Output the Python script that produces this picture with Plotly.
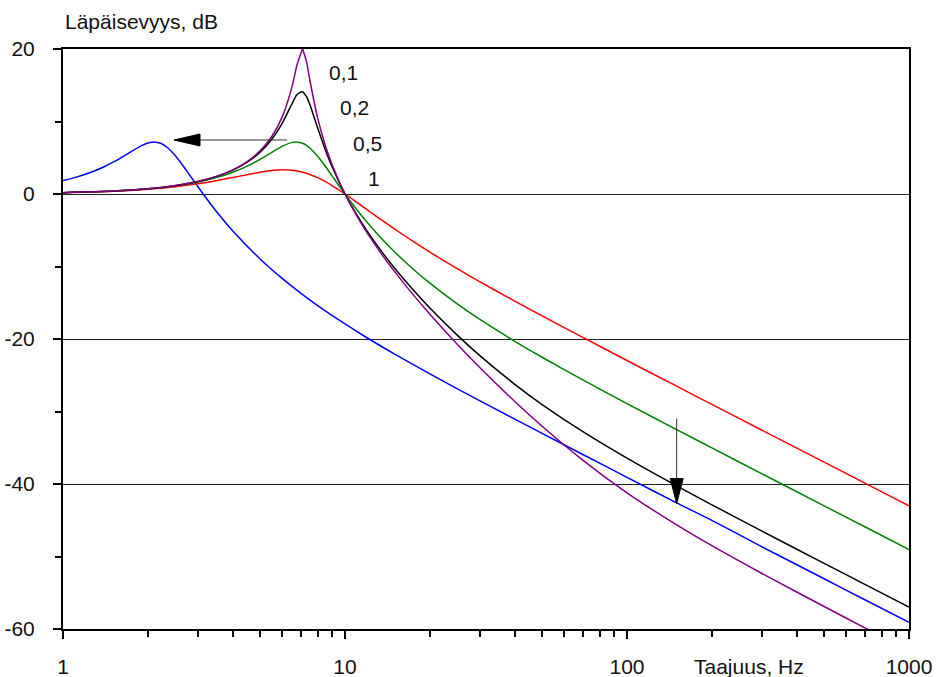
import math
import plotly.graph_objects as go

# Frequencies (Hz) for the four damping curves
FREQ = [1, 1.5, 2, 2.5, 3, 3.5, 4, 4.5, 5, 5.5, 6, 6.5, 6.75, 7.07, 7.3, 7.5, 8, 8.5, 9,
        10, 11, 12, 13.5, 15, 17.5, 20, 25, 30, 40, 50, 70, 100, 150, 200, 300, 500, 700, 1000]

# Transmissibility (dB) per damping value
T_01 = [0.18, 0.40, 0.72, 1.16, 1.72, 2.43, 3.33, 4.48, 5.96, 7.93, 10.71, 14.92, 17.74, 20.04,
        18.29, 15.76, 10.46, 6.79, 4.04, 0.0, -2.99, -5.40, -8.32, -10.71, -13.95, -16.58,
        -20.71, -23.89, -28.62, -32.04, -36.77, -41.21, -45.64, -48.51, -52.31, -56.90,
        -59.87, -62.99]
T_02 = [0.18, 0.40, 0.72, 1.15, 1.71, 2.41, 3.29, 4.39, 5.77, 7.55, 9.82, 12.52, 13.69, 14.15,
        13.46, 12.37, 9.09, 6.17, 3.75, 0.0, -2.85, -5.15, -7.95, -10.23, -13.28, -15.73,
        -19.47, -22.26, -26.25, -29.04, -32.82, -36.44, -40.26, -42.87, -46.47, -50.95,
        -53.88, -56.98]
T_05 = [0.18, 0.40, 0.71, 1.12, 1.63, 2.26, 2.99, 3.84, 4.77, 5.74, 6.60, 7.12, 7.17, 6.99,
        6.70, 6.35, 5.20, 3.86, 2.50, 0.0, -2.13, -3.93, -6.17, -7.99, -10.41, -12.30,
        -15.16, -17.27, -20.32, -22.52, -25.68, -28.91, -32.50, -35.02, -38.56, -43.01,
        -45.93, -49.03]
T_1 = [0.17, 0.38, 0.67, 1.01, 1.41, 1.84, 2.27, 2.67, 3.01, 3.24, 3.33, 3.27, 3.18, 3.01,
       2.86, 2.70, 2.25, 1.73, 1.16, 0.0, -1.13, -2.18, -3.60, -4.84, -6.58, -8.02,
       -10.30, -12.08, -14.78, -16.82, -19.82, -22.97, -26.51, -29.02, -32.55, -36.99,
       -39.91, -43.01]

# Softer mount: resonance moved down to about 2.2 Hz
LOW_FREQ = [1, 1.1, 1.25, 1.4, 1.5, 1.6, 1.75, 1.9, 2, 2.1, 2.22, 2.35, 2.5, 2.75, 3, 3.5, 4,
            5, 6, 7, 8, 10, 12, 15, 20, 30, 50, 70, 100, 150, 200, 300, 500, 700, 1000]
T_LOW = [1.85, 2.26, 2.96, 3.76, 4.35, 4.96, 5.88, 6.67, 7.03, 7.17, 6.99, 6.38, 5.30, 3.15,
         1.07, -2.42, -5.10, -8.96, -11.68, -13.74, -15.39, -17.93, -19.86, -22.08, -24.81,
         -28.50, -33.02, -35.97, -39.08, -42.61, -45.02, -48.63, -53.07, -56.00, -59.09]

CURVE_LABELS = ["0,1", "0,2", "0,5", "1"]
LABEL_FREQ = [9.84, 10.85, 12.06, 12.67]
LABEL_DB = [16.7, 11.9, 7.0, 2.2]

X_TICKS = [1, 10, 100, 1000]
X_MINOR = [m * d for d in (1, 10, 100) for m in range(2, 10)]
Y_TICKS = [20, 0, -20, -40, -60]

FONT = "Liberation Sans, Arial, sans-serif"
FS = 21
TXT = "#111"

fig = go.Figure()


def add_curve(xs, ys, col):
    """Smooth line; split at a sharp resonance peak so the tip stays pointed."""
    line = dict(color=col, width=1.5, shape="spline", smoothing=0.7)
    peak = max(range(len(ys)), key=lambda i: ys[i])
    pieces = [(xs[:peak + 1], ys[:peak + 1]), (xs[peak:], ys[peak:])] if peak > 0 else [(xs, ys)]
    for px, py in pieces:
        fig.add_trace(go.Scatter(x=px, y=py, mode="lines", line=line,
                                 showlegend=False, hoverinfo="skip"))


add_curve(LOW_FREQ, T_LOW, "#0000FF")
add_curve(FREQ, T_1, "#FF0000")
add_curve(FREQ, T_05, "#008000")
add_curve(FREQ, T_02, "#000000")
add_curve(FREQ, T_01, "#800080")

# Curve labels (damping values)
for txt, f, db in zip(CURVE_LABELS, LABEL_FREQ, LABEL_DB):
    fig.add_annotation(x=math.log10(f), y=db, xref="x", yref="y", text=txt,
                       showarrow=False, font=dict(family=FONT, size=FS, color=TXT))

# Arrows: resonance shift (left) and high-frequency drop (down)
shapes = [
    dict(type="line", xref="x", yref="y", x0=6.23, y0=7.45, x1=2.6, y1=7.45,
         line=dict(color="#333", width=1)),
    dict(type="path", xref="x", yref="y", xsizemode="pixel", ysizemode="pixel",
         xanchor=2.475, yanchor=7.45, path="M0,0 L26,6 L26,-6 Z",
         fillcolor="black", line=dict(color="black", width=1)),
    dict(type="line", xref="x", yref="y", x0=150, y0=-31.0, x1=150, y1=-41.0,
         line=dict(color="#333", width=1)),
    dict(type="path", xref="x", yref="y", xsizemode="pixel", ysizemode="pixel",
         xanchor=150, yanchor=-42.7, path="M0,0 L-6.5,25 L6.5,25 Z",
         fillcolor="black", line=dict(color="black", width=1)),
]

fig.add_annotation(xref="paper", yref="paper", x=0, y=1.0, yshift=28,
                   xanchor="left", yanchor="middle", text="Läpäisevyys, dB",
                   showarrow=False, font=dict(family=FONT, size=FS, color=TXT))
fig.add_annotation(xref="paper", yref="paper", x=0.811, y=0, yshift=-37,
                   xanchor="center", yanchor="middle", text="Taajuus, Hz",
                   showarrow=False, font=dict(family=FONT, size=FS, color=TXT))

fig.update_layout(
    width=937, height=677,
    margin=dict(l=63, r=28, t=49, b=48, autoexpand=False),
    paper_bgcolor="white", plot_bgcolor="white",
    shapes=shapes,
    font=dict(family=FONT, size=FS, color=TXT),
)

fig.update_xaxes(
    type="log", range=[0, 3], automargin=False,
    tickvals=X_TICKS, ticktext=[str(v) for v in X_TICKS],
    ticks="outside", ticklen=8, tickwidth=1.5, tickcolor="black",
    ticklabelstandoff=10,
    showline=True, linewidth=2, linecolor="black", mirror=True,
    showgrid=False, zeroline=False,
    minor=dict(tickvals=X_MINOR, ticks="outside", ticklen=6, tickwidth=1.5,
               tickcolor="black", showgrid=False),
    tickfont=dict(family=FONT, size=FS, color=TXT),
)
fig.update_yaxes(
    range=[-60, 20], automargin=False,
    tickvals=Y_TICKS, ticktext=[str(v) for v in Y_TICKS],
    ticks="outside", ticklen=8, tickwidth=1.5, tickcolor="black",
    ticklabelstandoff=14,
    showline=True, linewidth=2, linecolor="black", mirror=True,
    showgrid=True, gridcolor="#222", gridwidth=1, zeroline=False,
    minor=dict(dtick=10, ticks="outside", ticklen=6, tickwidth=1.5,
               tickcolor="black", showgrid=False),
    tickfont=dict(family=FONT, size=FS, color=TXT),
)

fig.write_html("out.html")
